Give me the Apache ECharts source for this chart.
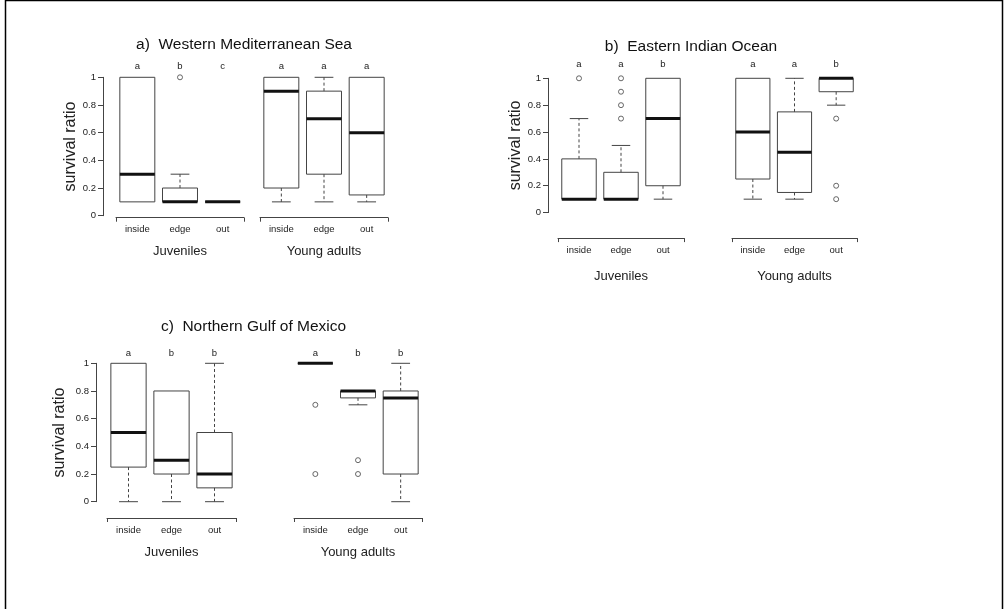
<!DOCTYPE html>
<html>
<head>
<meta charset="utf-8">
<script src="https://cdn.jsdelivr.net/npm/echarts@6/dist/echarts.min.js"></script>
<style>
  html, body { margin: 0; padding: 0; background: #fff; }
  #chart { width: 1005px; height: 609px; }
</style>
</head>
<body>
<div id="chart"></div>
<script>
// ---- data -------------------------------------------------------------
const categories = ['inside', 'edge', 'out'];
const groupNames = ['Juveniles', 'Young adults'];
const yTickLabels = ['0', '0.2', '0.4', '0.6', '0.8', '1'];
const panelTitles = ['a)  Western Mediterranean Sea', 'b)  Eastern Indian Ocean', 'c)  Northern Gulf of Mexico'];

// box statistics per site: [min, Q1, median, Q3, max]
const medJuvBoxes = [[0.1, 0.1, 0.3, 1, 1], [0.1, 0.1, 0.1, 0.2, 0.3], [0.1, 0.1, 0.1, 0.1, 0.1]];
const medJuvOutliers = [[], [1], []];
const medJuvLetters = ['a', 'b', 'c'];
const medAdultBoxes = [[0.1, 0.2, 0.9, 1, 1], [0.1, 0.3, 0.7, 0.9, 1], [0.1, 0.15, 0.6, 1, 1]];
const medAdultOutliers = [[], [], []];
const medAdultLetters = ['a', 'a', 'a'];

const indJuvBoxes = [[0.1, 0.1, 0.1, 0.4, 0.7], [0.1, 0.1, 0.1, 0.3, 0.5], [0.1, 0.2, 0.7, 1, 1]];
const indJuvOutliers = [[1], [1, 0.9, 0.8, 0.7], []];
const indJuvLetters = ['a', 'a', 'b'];
const indAdultBoxes = [[0.1, 0.25, 0.6, 1, 1], [0.1, 0.15, 0.45, 0.75, 1], [0.8, 0.9, 1, 1, 1]];
const indAdultOutliers = [[], [], [0.7, 0.2, 0.1]];
const indAdultLetters = ['a', 'a', 'b'];

const gomJuvBoxes = [[0, 0.25, 0.5, 1, 1], [0, 0.2, 0.3, 0.8, 0.8], [0, 0.1, 0.2, 0.5, 1]];
const gomJuvOutliers = [[], [], []];
const gomJuvLetters = ['a', 'b', 'b'];
const gomAdultBoxes = [[1, 1, 1, 1, 1], [0.7, 0.75, 0.8, 0.8, 0.8], [0, 0.2, 0.75, 0.8, 1]];
const gomAdultOutliers = [[0.7, 0.2], [0.3, 0.2], []];
const gomAdultLetters = ['a', 'b', 'b'];

// ---- layout -----------------------------------------------------------
const FONT = '"Liberation Sans", Arial, Helvetica, sans-serif';
const LINE = '#444';
const TEXT = '#222';

const panels = [
  { title: panelTitles[0], titleX: 244, titleY: 45, top: 77.3, bottom: 215.7,
    axisX: 103, yNameGap: 19.5, bracketGap: 2, labelMargin: 7, nameGap: 27, letterMargin: 5.5,
    groups: [
      { left: 116, right: 244, boxes: medJuvBoxes, outliers: medJuvOutliers, letters: medJuvLetters },
      { left: 260, right: 388, boxes: medAdultBoxes, outliers: medAdultOutliers, letters: medAdultLetters }
    ] },
  { title: panelTitles[1], titleX: 691, titleY: 47, top: 78.3, bottom: 212.6,
    axisX: 548, yNameGap: 23, bracketGap: 25.5, labelMargin: 7.5, nameGap: 31.5, letterMargin: 9,
    groups: [
      { left: 558, right: 684, boxes: indJuvBoxes, outliers: indJuvOutliers, letters: indJuvLetters },
      { left: 732, right: 857, boxes: indAdultBoxes, outliers: indAdultOutliers, letters: indAdultLetters }
    ] },
  { title: panelTitles[2], titleX: 253.5, titleY: 327, top: 363.3, bottom: 501.7,
    axisX: 96, yNameGap: 28, bracketGap: 16.3, labelMargin: 7.5, nameGap: 27.5, letterMargin: 5,
    groups: [
      { left: 107, right: 236, boxes: gomJuvBoxes, outliers: gomJuvOutliers, letters: gomJuvLetters },
      { left: 294, right: 422, boxes: gomAdultBoxes, outliers: gomAdultOutliers, letters: gomAdultLetters }
    ] }
];

// R-style box: solid box, thick median, dashed whiskers with solid staples
function drawBox(params, api) {
  const i = api.value(0);
  const pMin = api.coord([i, api.value(1)]);
  const pQ1 = api.coord([i, api.value(2)]);
  const pMed = api.coord([i, api.value(3)]);
  const pQ3 = api.coord([i, api.value(4)]);
  const pMax = api.coord([i, api.value(5)]);
  const band = api.size([1, 0])[0];
  const cx = pMed[0];
  const half = band * 0.41;
  const cap = band * 0.22;
  const solid = { stroke: LINE, lineWidth: 1, fill: null };
  const dashed = { stroke: LINE, lineWidth: 1, lineDash: [3, 2.5] };
  const kids = [];
  if (pMax[1] < pQ3[1] - 0.5) {
    kids.push({ type: 'line', shape: { x1: cx, y1: pQ3[1], x2: cx, y2: pMax[1] }, style: dashed });
    kids.push({ type: 'line', shape: { x1: cx - cap, y1: pMax[1], x2: cx + cap, y2: pMax[1] }, style: solid });
  }
  if (pMin[1] > pQ1[1] + 0.5) {
    kids.push({ type: 'line', shape: { x1: cx, y1: pQ1[1], x2: cx, y2: pMin[1] }, style: dashed });
    kids.push({ type: 'line', shape: { x1: cx - cap, y1: pMin[1], x2: cx + cap, y2: pMin[1] }, style: solid });
  }
  kids.push({ type: 'rect', shape: { x: cx - half, y: pQ3[1], width: 2 * half, height: pQ1[1] - pQ3[1] },
              style: { stroke: LINE, lineWidth: 1, fill: 'rgba(0,0,0,0)' } });
  kids.push({ type: 'line', shape: { x1: cx - half, y1: pMed[1], x2: cx + half, y2: pMed[1] },
              style: { stroke: '#111', lineWidth: 3 } });
  return { type: 'group', children: kids };
}

const grid = [], xAxis = [], yAxis = [], series = [], graphic = [];
let g = 0;
panels.forEach((p) => {
  graphic.push({ type: 'text', x: p.titleX, y: p.titleY, silent: true,
    style: { text: p.title, textAlign: 'center', textVerticalAlign: 'middle',
             font: '15.5px ' + FONT, fill: '#111' } });
  p.groups.forEach((grp, k) => {
    grid.push({ left: grp.left, width: grp.right - grp.left, top: p.top, height: p.bottom - p.top });
    // bracket axis with site labels and group name
    xAxis.push({
      gridIndex: g, type: 'category', data: categories, position: 'bottom',
      offset: p.bracketGap,
      axisLine: { show: true, onZero: false, lineStyle: { color: LINE, width: 1 } },
      axisTick: { show: true, interval: (idx) => idx === 0, length: 4, inside: false,
                  lineStyle: { color: LINE, width: 1 } },
      axisLabel: { show: true, margin: p.labelMargin, fontSize: 9.5, fontFamily: FONT, color: TEXT },
      name: groupNames[k], nameLocation: 'middle', nameGap: p.nameGap,
      nameTextStyle: { fontSize: 13, fontFamily: FONT, color: TEXT },
      splitLine: { show: false }
    });
    // significance letters above each box
    xAxis.push({
      gridIndex: g, type: 'category', data: grp.letters, position: 'top',
      axisLine: { show: false }, axisTick: { show: false }, splitLine: { show: false },
      axisLabel: { show: true, margin: p.letterMargin, fontSize: 9.5, fontFamily: FONT, color: TEXT }
    });
    yAxis.push({
      gridIndex: g, type: 'value', min: 0, max: 1, interval: 0.2,
      show: k === 0, offset: grp.left - p.axisX,
      axisLine: { show: true, lineStyle: { color: LINE, width: 1 } },
      axisTick: { show: true, length: 5, lineStyle: { color: LINE, width: 1 } },
      axisLabel: { margin: 7, fontSize: 9.5, fontFamily: FONT, color: TEXT,
                   formatter: (v) => yTickLabels[Math.round(v / 0.2)] },
      splitLine: { show: false },
      name: k === 0 ? 'survival ratio' : '', nameLocation: 'middle', nameGap: p.yNameGap,
      nameTextStyle: { fontSize: 16, fontFamily: FONT, color: TEXT }
    });
    series.push({
      type: 'custom', xAxisIndex: 2 * g, yAxisIndex: g, renderItem: drawBox, silent: true,
      encode: { x: 0, y: [1, 2, 3, 4, 5] },
      data: grp.boxes.map((b, i) => [i].concat(b))
    });
    const pts = [];
    grp.outliers.forEach((vals, i) => vals.forEach((v) => pts.push([i, v])));
    series.push({
      type: 'scatter', xAxisIndex: 2 * g, yAxisIndex: g, silent: true,
      symbol: 'circle', symbolSize: 5,
      itemStyle: { color: '#fff', borderColor: LINE, borderWidth: 1 },
      data: pts
    });
    g++;
  });
});

// outer frame
graphic.push({ type: 'rect', silent: true, shape: { x: 5.5, y: 0.5, width: 997, height: 640 },
               style: { stroke: '#000', lineWidth: 1.5, fill: 'rgba(0,0,0,0)' } });

const chart = echarts.init(document.getElementById('chart'), null, { renderer: 'canvas' });
chart.setOption({
  animation: false,
  backgroundColor: '#fff',
  grid, xAxis, yAxis, series, graphic
});
</script>
</body>
</html>
